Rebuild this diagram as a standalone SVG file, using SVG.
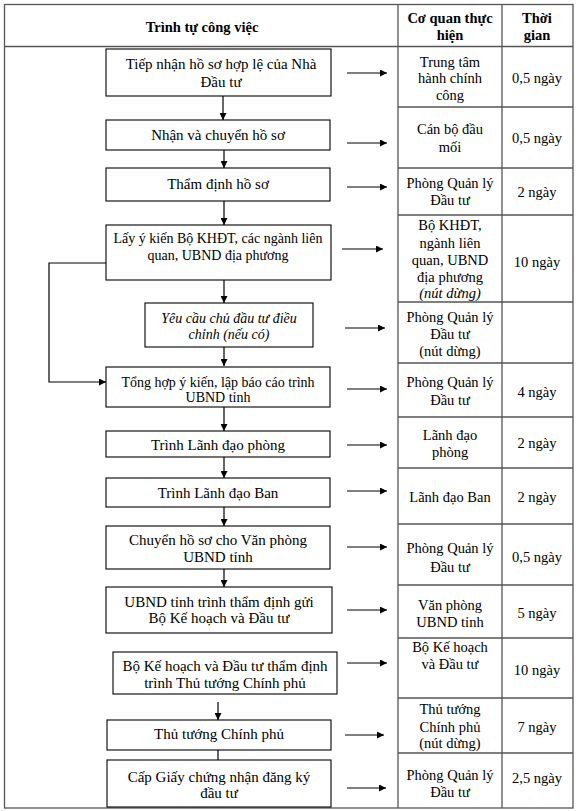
<svg xmlns="http://www.w3.org/2000/svg" width="576" height="811" viewBox="0 0 576 811">
<style>
text{font-family:"Liberation Serif","Times New Roman",serif;font-size:14.5px;fill:#000;text-anchor:middle}
.h{font-weight:bold;font-size:14.5px}
.i{font-style:italic}
.grid{stroke:#555;stroke-width:1.3;fill:none}
.box rect{fill:#fff;stroke:#000;stroke-width:1.1}
.box text{font-size:15px}
.box text.s{font-size:14px}
.con line,.con polyline{stroke:#000;stroke-width:1.2;fill:none}
.arr{marker-end:url(#ah)}
</style>
<defs>
<marker id="ah" viewBox="0 0 10 10" refX="10" refY="5" markerWidth="8" markerHeight="7" markerUnits="userSpaceOnUse" orient="auto">
<path d="M0,0L10,5L0,10z" fill="#000"/>
</marker>
</defs>
<rect width="576" height="811" fill="#fff"/>
<g id="table">
<rect class="grid" x="4.5" y="4.5" width="568.5" height="803.5"/>
<line class="grid" x1="4.5" y1="46.5" x2="573" y2="46.5"/>
<line class="grid" x1="398" y1="4.5" x2="398" y2="808"/>
<line class="grid" x1="502" y1="4.5" x2="502" y2="808"/>
<path class="grid" d="M398,107H573M398,168H573M398,215H573M398,302H573M398,363H573M398,417H573M398,468H573M398,524H573M398,585H573M398,638H573M398,698H573M398,753H573"/>
<text class="h" x="202" y="32">Trình tự công việc</text>
<text class="h" x="450" y="23">Cơ quan thực</text>
<text class="h" x="450" y="40">hiện</text>
<text class="h" x="537" y="23">Thời</text>
<text class="h" x="537" y="40">gian</text>
</g>
<g id="cells">
<text x="450" y="67">Trung tâm</text><text x="450" y="83">hành chính</text><text x="450" y="100">công</text><text x="537" y="83">0,5 ngày</text>
<text x="450" y="134">Cán bộ đầu</text><text x="450" y="152">mối</text><text x="537" y="143">0,5 ngày</text>
<text x="450" y="188">Phòng Quản lý</text><text x="450" y="205">Đầu tư</text><text x="537" y="197">2 ngày</text>
<text x="450" y="230">Bộ KHĐT,</text><text x="450" y="248">ngành liên</text><text x="450" y="265">quan, UBND</text><text x="450" y="282">địa phương</text><text class="i" x="450" y="298">(nút dừng)</text><text x="537" y="267">10 ngày</text>
<text x="450" y="322">Phòng Quản lý</text><text x="450" y="339">Đầu tư</text><text x="450" y="356">(nút dừng)</text>
<text x="450" y="387">Phòng Quản lý</text><text x="450" y="405">Đầu tư</text><text x="537" y="397">4 ngày</text>
<text x="450" y="440">Lãnh đạo</text><text x="450" y="457">phòng</text><text x="537" y="448">2 ngày</text>
<text x="450" y="502">Lãnh đạo Ban</text><text x="537" y="502">2 ngày</text>
<text x="450" y="553">Phòng Quản lý</text><text x="450" y="572">Đầu tư</text><text x="537" y="562">0,5 ngày</text>
<text x="450" y="610">Văn phòng</text><text x="450" y="627">UBND tỉnh</text><text x="537" y="618">5 ngày</text>
<text x="450" y="652">Bộ Kế hoạch</text><text x="450" y="669">và Đầu tư</text><text x="537" y="675">10 ngày</text>
<text x="450" y="714">Thủ tướng</text><text x="450" y="732">Chính phủ</text><text x="450" y="748">(nút dừng)</text><text x="537" y="732">7 ngày</text>
<text x="450" y="780">Phòng Quản lý</text><text x="450" y="797">Đầu tư</text><text x="537" y="783">2,5 ngày</text>
</g>
<g class="con" id="connectors">
<line class="arr" x1="223" y1="96" x2="223" y2="120"/>
<line class="arr" x1="224" y1="150" x2="224" y2="168"/>
<line class="arr" x1="224" y1="201" x2="224" y2="225"/>
<line class="arr" x1="224" y1="280" x2="224" y2="303"/>
<line class="arr" x1="224" y1="347" x2="224" y2="366"/>
<polyline class="arr" points="106,263 49,263 49,382 106,382"/>
<line class="arr" x1="224" y1="407" x2="224" y2="431"/>
<line class="arr" x1="224" y1="457" x2="224" y2="478"/>
<line class="arr" x1="224" y1="507" x2="224" y2="526"/>
<line class="arr" x1="224" y1="569" x2="224" y2="587"/>
<line class="arr" x1="218" y1="702" x2="218" y2="720"/>
<line x1="218" y1="750" x2="218" y2="760"/>
<line class="arr" x1="347" y1="73" x2="387" y2="73"/>
<line class="arr" x1="347" y1="143" x2="387" y2="143"/>
<line class="arr" x1="347" y1="187" x2="387" y2="187"/>
<line class="arr" x1="342" y1="249" x2="383" y2="249"/>
<line class="arr" x1="345" y1="328" x2="385" y2="328"/>
<line class="arr" x1="347" y1="389" x2="387" y2="389"/>
<line class="arr" x1="347" y1="445" x2="387" y2="445"/>
<line class="arr" x1="347" y1="491" x2="387" y2="491"/>
<line class="arr" x1="347" y1="547" x2="387" y2="547"/>
<line class="arr" x1="347" y1="610" x2="387" y2="610"/>
<line class="arr" x1="347" y1="663" x2="387" y2="663"/>
<line class="arr" x1="345" y1="735" x2="384" y2="735"/>
<line class="arr" x1="347" y1="788" x2="386" y2="788"/>
</g>
<g class="box" id="n1"><rect x="106" y="49" width="225" height="47"/><text x="221" y="69">Tiếp nhận hồ sơ hợp lệ của Nhà</text><text x="221" y="87">Đầu tư</text></g>
<g class="box" id="n2"><rect x="106" y="120" width="224" height="30"/><text x="218" y="140">Nhận và chuyển hồ sơ</text></g>
<g class="box" id="n3"><rect x="106" y="168" width="224" height="33"/><text x="218" y="189">Thẩm định hồ sơ</text></g>
<g class="box" id="n4"><rect x="106" y="225" width="225" height="55"/><text class="s" x="218" y="243">Lấy ý kiến Bộ KHĐT, các ngành liên</text><text class="s" x="218" y="260">quan, UBND địa phương</text></g>
<g class="box" id="n5"><rect x="145" y="303" width="168" height="44"/><text class="i s" x="229" y="323">Yêu cầu chủ đầu tư điều</text><text class="i s" x="229" y="339">chỉnh (nếu có)</text></g>
<g class="box" id="n6"><rect x="106" y="367" width="224" height="40"/><text class="s" x="218" y="387">Tổng hợp ý kiến, lập báo cáo trình</text><text class="s" x="218" y="402">UBND tỉnh</text></g>
<g class="box" id="n7"><rect x="106" y="431" width="224" height="26"/><text x="218" y="450">Trình Lãnh đạo phòng</text></g>
<g class="box" id="n8"><rect x="106" y="478" width="224" height="29"/><text x="218" y="498">Trình Lãnh đạo Ban</text></g>
<g class="box" id="n9"><rect x="106" y="526" width="224" height="43"/><text x="218" y="545">Chuyển hồ sơ cho Văn phòng</text><text x="218" y="562">UBND tỉnh</text></g>
<g class="box" id="n10"><rect x="106" y="587" width="226" height="46"/><text x="219" y="607">UBND tỉnh trình thẩm định gửi</text><text x="219" y="623">Bộ Kế hoạch và Đầu tư</text></g>
<g class="box" id="n11"><rect x="113" y="652" width="224" height="42"/><text x="225" y="671">Bộ Kế hoạch và Đầu tư thẩm định</text><text x="225" y="688">trình Thủ tướng Chính phủ</text></g>
<g class="box" id="n12"><rect x="107" y="720" width="224" height="30"/><text x="219" y="739">Thủ tướng Chính phủ</text></g>
<g class="box" id="n13"><rect x="107" y="760" width="224" height="47"/><text x="219" y="782">Cấp Giấy chứng nhận đăng ký</text><text x="219" y="798">đầu tư</text></g>
</svg>
